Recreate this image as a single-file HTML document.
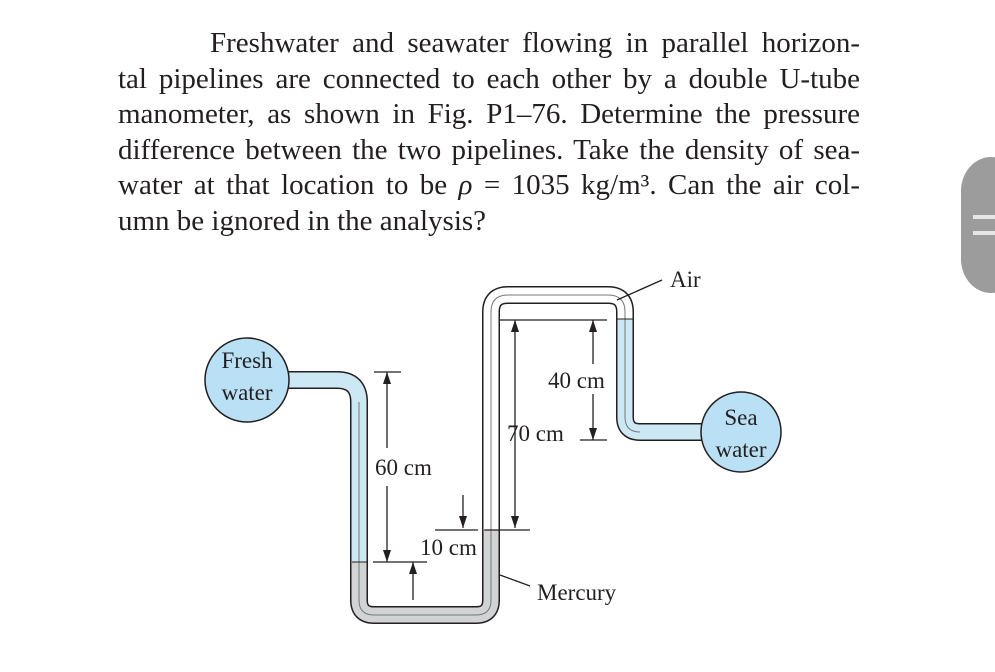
<!DOCTYPE html>
<html><head><meta charset="utf-8"><style>
body{margin:0;width:995px;height:672px;background:#fff;overflow:hidden;position:relative;font-family:"Liberation Serif",serif;}
.t{position:absolute;left:118px;width:742px;font-size:29px;color:#231f20;}
.l{height:35.6px;line-height:35.6px;text-align:justify;text-align-last:justify;white-space:nowrap;}
</style></head><body>
<div class="t" style="top:26px">
<div class="l" style="padding-left:92px">Freshwater and seawater flowing in parallel horizon-</div>
<div class="l">tal pipelines are connected to each other by a double U-tube</div>
<div class="l">manometer, as shown in Fig. P1–76. Determine the pressure</div>
<div class="l">difference between the two pipelines. Take the density of sea-</div>
<div class="l">water at that location to be <i>ρ</i> = 1035 kg/m³. Can the air col-</div>
<div class="l" style="text-align-last:left">umn be ignored in the analysis?</div>
</div>
<svg width="995" height="672" style="position:absolute;left:0;top:0" font-family="Liberation Serif, serif" font-size="23" fill="#231f20">
<rect x="961" y="157" width="60" height="136" rx="34" fill="#9c9c9c"/>
<rect x="973" y="215" width="24" height="4" fill="#e6e6e6"/>
<rect x="973" y="231" width="24" height="4" fill="#e6e6e6"/>
<g fill="none" stroke-linejoin="round">
<path d="M285 380 H337 Q359 380 359 402 V600 Q359 615 374 615 H476 Q491 615 491 600 V312 Q491 295 508 295 H608 Q625 295 625 312 V417 Q625 432 640 432 H705" stroke="#231f20" stroke-width="18"/>
<path d="M285 380 H337 Q359 380 359 402 V562" stroke="#cde8f5" stroke-width="15"/>
<path d="M359 562 V600 Q359 615 374 615 H476 Q491 615 491 600 V530" stroke="#d2d3d5" stroke-width="15"/>
<path d="M491 530 V312 Q491 295 508 295 H608 Q625 295 625 312 V319" stroke="#fff" stroke-width="15"/>
<path d="M625 319 V417 Q625 432 640 432 H705" stroke="#cde8f5" stroke-width="15"/>
<path d="M359 402 V600 Q359 615 374 615 H476 Q491 615 491 600 V312 Q491 295 508 295 H608 Q625 295 625 312 V417 Q625 432 640 432" stroke="#777" stroke-width="1"/>
</g>
<line x1="352" y1="562" x2="367" y2="562" stroke="#231f20"/>
<line x1="484" y1="530" x2="499" y2="530" stroke="#231f20"/>
<line x1="617" y1="319" x2="633" y2="319" stroke="#231f20"/>
<circle cx="247" cy="380" r="42" fill="#b9e0f5" stroke="#231f20" stroke-width="1.5"/>
<text x="247" y="368" text-anchor="middle">Fresh</text>
<text x="247" y="400" text-anchor="middle">water</text>
<circle cx="741" cy="432" r="40" fill="#b9e0f5" stroke="#231f20" stroke-width="1.5"/>
<text x="741" y="425" text-anchor="middle">Sea</text>
<text x="741" y="457" text-anchor="middle">water</text>
<g stroke="#231f20" stroke-width="1.3" fill="none">
<line x1="374" y1="372" x2="401" y2="372"/>
<line x1="387" y1="372" x2="387" y2="448"/><line x1="387" y1="486" x2="387" y2="562"/>
<line x1="373" y1="562" x2="427" y2="562"/>
<line x1="413" y1="562" x2="413" y2="600"/>
<line x1="463" y1="495" x2="463" y2="528"/>
<line x1="435" y1="530" x2="478" y2="530"/>
<line x1="485" y1="530" x2="530" y2="530"/>
<line x1="500" y1="320" x2="607" y2="320"/>
<line x1="515" y1="320" x2="515" y2="528"/>
<line x1="593" y1="320" x2="593" y2="364"/><line x1="593" y1="394" x2="593" y2="440"/>
<line x1="580" y1="440" x2="607" y2="440"/>
<line x1="500" y1="575" x2="530" y2="586"/>
<line x1="617" y1="300" x2="662" y2="280"/>
</g>
<g fill="#231f20">
<path d="M387 372 l-4 12 h8z"/><path d="M387 562 l-4 -12 h8z"/>
<path d="M413 562 l-4 12 h8z"/><path d="M463 528 l-4 -12 h8z"/>
<path d="M515 320 l-4 12 h8z"/><path d="M515 528 l-4 -12 h8z"/>
<path d="M593 320 l-4 12 h8z"/><path d="M593 440 l-4 -12 h8z"/>
</g>
<rect x="374" y="452" width="66" height="28" fill="#fff"/>
<text x="375" y="475">60 cm</text>
<text x="420" y="555">10 cm</text>
<text x="507" y="441">70 cm</text>
<text x="548" y="388">40 cm</text>
<text x="537" y="600">Mercury</text>
<text x="670" y="287">Air</text>
</svg>
</body></html>
